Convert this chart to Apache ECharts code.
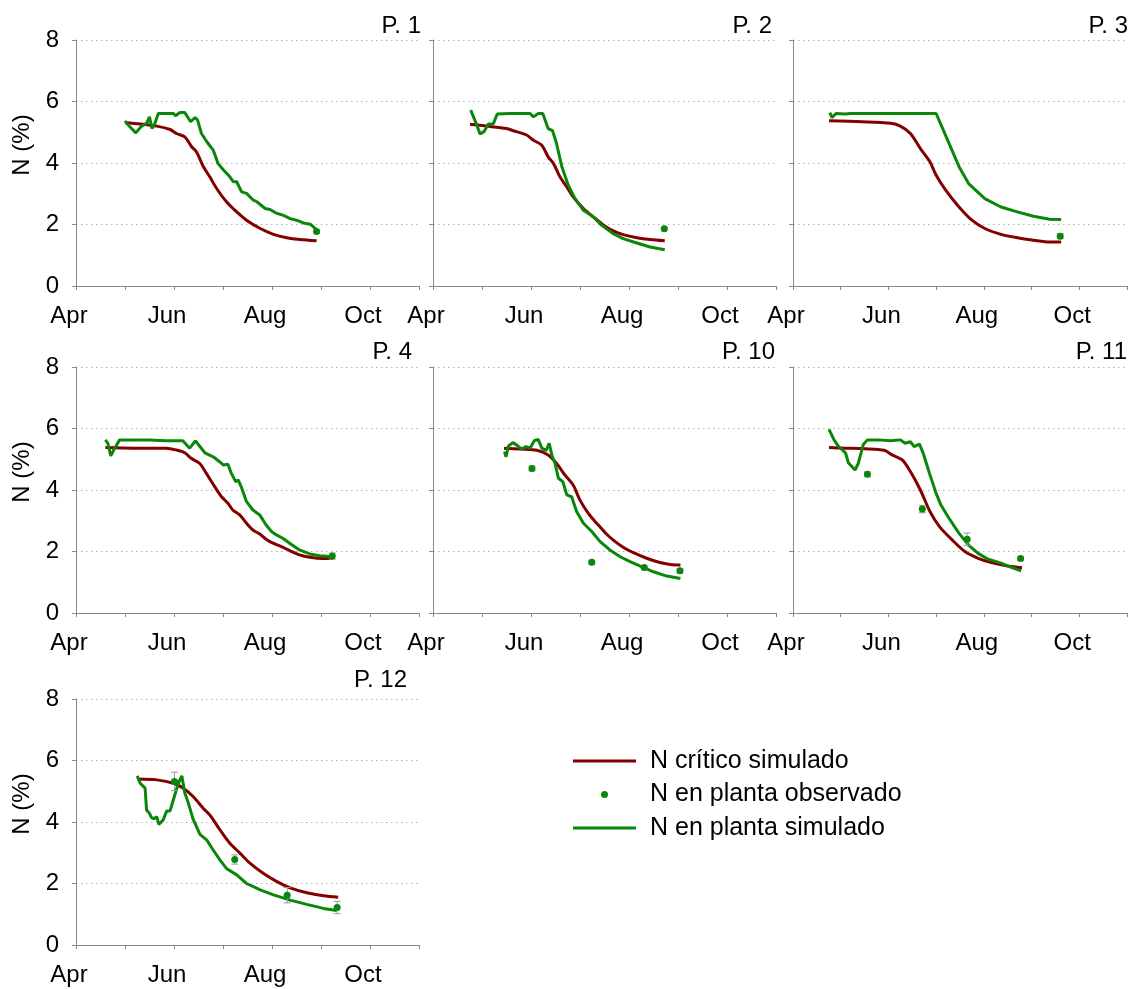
<!DOCTYPE html>
<html>
<head>
<meta charset="utf-8">
<title>N crítico vs N en planta</title>
<script src="https://cdn.jsdelivr.net/npm/echarts@6.0.0/dist/echarts.min.js"></script>
<style>
  html, body { margin: 0; padding: 0; background: #fff; }
  #main { width: 1130px; height: 989px; }
</style>
</head>
<body>
<div id="main"></div>
<script>
// x: meses desde el 1 de abril (0 = Apr, 2 = Jun, 4 = Aug, 6 = Oct)
var monthLabels = ['Apr', '', 'Jun', '', 'Aug', '', 'Oct', ''];
var panelNames = ['P. 1', 'P. 2', 'P. 3', 'P. 4', 'P. 10', 'P. 11', 'P. 12'];

// P. 1
var critP1 = [[1.0,5.31],[1.31,5.27],[1.65,5.2],[1.92,5.09],[2.05,4.96],[2.22,4.85],[2.36,4.53],[2.46,4.36],[2.6,3.88],[2.73,3.55],[2.87,3.17],[3.07,2.74],[3.28,2.41],[3.48,2.14],[3.76,1.87],[4.03,1.68],[4.3,1.57],[4.57,1.51],[4.91,1.47]];
var simP1 = [[1.0,5.37],[1.07,5.23],[1.22,4.98],[1.34,5.2],[1.44,5.29],[1.5,5.5],[1.55,5.12],[1.61,5.29],[1.68,5.61],[1.99,5.61],[2.03,5.54],[2.12,5.64],[2.22,5.64],[2.34,5.34],[2.43,5.48],[2.48,5.4],[2.56,4.96],[2.67,4.69],[2.8,4.42],[2.9,3.98],[3.01,3.77],[3.14,3.55],[3.21,3.39],[3.28,3.39],[3.38,3.06],[3.48,3.01],[3.62,2.79],[3.69,2.74],[3.86,2.52],[3.96,2.49],[4.1,2.36],[4.23,2.3],[4.37,2.19],[4.5,2.14],[4.64,2.05],[4.78,2.01],[4.91,1.83]];
var obsP1 = [[4.91,1.77,0.05]];

// P. 2
var critP2 = [[0.755,5.26],[1.1,5.2],[1.5,5.12],[1.64,5.05],[1.91,4.91],[2.05,4.74],[2.22,4.58],[2.35,4.2],[2.46,3.98],[2.59,3.55],[2.73,3.22],[2.86,2.9],[3.07,2.52],[3.27,2.25],[3.48,1.98],[3.68,1.79],[3.88,1.67],[4.16,1.57],[4.43,1.51],[4.73,1.47]];
var simP2 = [[0.77,5.72],[0.88,5.29],[0.96,4.94],[1.04,5.02],[1.13,5.27],[1.23,5.27],[1.31,5.59],[1.57,5.61],[1.98,5.61],[2.05,5.5],[2.15,5.61],[2.24,5.61],[2.35,5.12],[2.44,5.05],[2.52,4.64],[2.63,3.88],[2.76,3.28],[2.9,2.84],[3.07,2.46],[3.27,2.25],[3.44,1.98],[3.68,1.7],[3.88,1.54],[4.16,1.4],[4.43,1.27],[4.73,1.18]];
var obsP2 = [[4.72,1.86,0.04]];

// P. 3
var critP3 = [[0.755,5.37],[1.44,5.34],[2.05,5.29],[2.25,5.2],[2.46,4.96],[2.67,4.47],[2.87,4.04],[3.0,3.6],[3.2,3.12],[3.48,2.57],[3.75,2.14],[4.02,1.87],[4.36,1.68],[4.7,1.57],[5.04,1.49],[5.38,1.43],[5.62,1.43]];
var simP3 = [[0.77,5.64],[0.82,5.48],[0.9,5.61],[1.1,5.59],[1.2,5.61],[3.0,5.61],[3.27,4.64],[3.48,3.88],[3.68,3.33],[4.02,2.84],[4.36,2.57],[4.7,2.41],[5.04,2.27],[5.38,2.17],[5.62,2.16]];
var obsP3 = [[5.6,1.62,0.08]];

// P. 4
var critP4 = [[0.6,5.38],[1.16,5.36],[1.84,5.36],[2.05,5.3],[2.22,5.21],[2.35,5.03],[2.52,4.87],[2.66,4.54],[2.83,4.11],[2.97,3.78],[3.1,3.57],[3.2,3.35],[3.34,3.19],[3.48,2.92],[3.61,2.7],[3.75,2.57],[3.88,2.4],[4.02,2.27],[4.19,2.16],[4.36,2.03],[4.56,1.89],[4.77,1.81],[5.04,1.77],[5.24,1.77]];
var simP4 = [[0.6,5.63],[0.65,5.52],[0.71,5.11],[0.79,5.36],[0.89,5.63],[1.16,5.63],[1.5,5.63],[1.84,5.6],[2.18,5.6],[2.32,5.36],[2.44,5.6],[2.52,5.43],[2.63,5.21],[2.8,5.08],[2.93,4.92],[3.01,4.81],[3.1,4.84],[3.17,4.54],[3.26,4.27],[3.31,4.33],[3.37,4.11],[3.48,3.62],[3.61,3.35],[3.75,3.19],[3.88,2.86],[3.99,2.65],[4.09,2.54],[4.22,2.43],[4.36,2.27],[4.56,2.05],[4.77,1.92],[4.97,1.86],[5.24,1.83]];
var obsP4 = [[5.23,1.85,0.1]];

// P. 10
var critP10 = [[1.45,5.36],[1.78,5.33],[2.12,5.29],[2.35,5.14],[2.52,4.87],[2.69,4.49],[2.86,4.16],[3.0,3.67],[3.17,3.24],[3.34,2.92],[3.51,2.62],[3.68,2.37],[3.88,2.14],[4.09,1.96],[4.36,1.78],[4.63,1.64],[4.84,1.58],[5.05,1.56]];
var simP10 = [[1.46,5.25],[1.49,5.08],[1.54,5.43],[1.63,5.54],[1.71,5.46],[1.81,5.33],[1.9,5.41],[1.98,5.36],[2.07,5.61],[2.15,5.64],[2.22,5.36],[2.31,5.29],[2.37,5.52],[2.43,5.11],[2.49,4.87],[2.56,4.38],[2.65,4.27],[2.73,3.84],[2.83,3.78],[2.93,3.3],[3.07,2.92],[3.24,2.65],[3.41,2.32],[3.61,2.05],[3.82,1.83],[4.02,1.67],[4.22,1.53],[4.5,1.34],[4.77,1.2],[5.05,1.12]];
var obsP10 = [[2.02,4.7,0.08],[3.24,1.65,0.06],[4.31,1.48,0.05],[5.04,1.37,0.07]];

// P. 11
var critP11 = [[0.755,5.38],[1.1,5.36],[1.5,5.34],[1.91,5.29],[2.08,5.14],[2.29,4.98],[2.46,4.6],[2.67,4.0],[2.87,3.3],[3.07,2.81],[3.34,2.37],[3.61,1.99],[3.88,1.78],[4.16,1.64],[4.5,1.53],[4.8,1.47]];
var simP11 = [[0.755,5.97],[0.86,5.63],[0.95,5.43],[1.1,5.21],[1.16,4.89],[1.3,4.65],[1.37,4.87],[1.47,5.47],[1.56,5.63],[1.78,5.63],[2.05,5.6],[2.25,5.63],[2.35,5.52],[2.46,5.57],[2.54,5.41],[2.65,5.49],[2.73,5.19],[2.86,4.54],[3.0,3.89],[3.1,3.51],[3.27,3.08],[3.48,2.59],[3.68,2.21],[3.88,1.94],[4.09,1.75],[4.36,1.62],[4.56,1.49],[4.78,1.37]];
var obsP11 = [[1.56,4.51,0.08],[2.71,3.38,0.12],[3.65,2.4,0.2],[4.77,1.77,0.06]];

// P. 12
var critP12 = [[1.25,5.4],[1.65,5.37],[1.99,5.26],[2.19,5.1],[2.39,4.83],[2.6,4.44],[2.73,4.23],[2.94,3.74],[3.14,3.31],[3.35,2.98],[3.55,2.66],[3.82,2.33],[4.1,2.06],[4.37,1.86],[4.71,1.7],[5.05,1.6],[5.35,1.55]];
var simP12 = [[1.25,5.5],[1.31,5.26],[1.41,5.1],[1.44,4.39],[1.5,4.28],[1.54,4.14],[1.59,4.11],[1.65,4.17],[1.69,3.92],[1.78,4.07],[1.85,4.36],[1.92,4.36],[1.99,4.74],[2.09,5.26],[2.16,5.5],[2.22,4.95],[2.29,4.63],[2.39,4.09],[2.53,3.6],[2.67,3.41],[2.8,3.09],[2.94,2.76],[3.07,2.49],[3.28,2.28],[3.48,2.0],[3.76,1.79],[4.03,1.63],[4.37,1.46],[4.71,1.32],[5.05,1.19],[5.32,1.12]];
var obsP12 = [[2.01,5.32,0.3],[3.24,2.78,0.15],[4.31,1.62,0.25],[5.33,1.22,0.2]];

var panels = [
    { crit: critP1, sim: simP1, obs: obsP1 },
    { crit: critP2, sim: simP2, obs: obsP2 },
    { crit: critP3, sim: simP3, obs: obsP3 },
    { crit: critP4, sim: simP4, obs: obsP4 },
    { crit: critP10, sim: simP10, obs: obsP10 },
    { crit: critP11, sim: simP11, obs: obsP11 },
    { crit: critP12, sim: simP12, obs: obsP12 }
];

var FONT = "'Liberation Sans', Arial, Helvetica, sans-serif";
var RED = '#820000';
var GREEN = '#0a870a';
var colLeft = [76, 433, 793];
var rowTop = [40, 367, 699];
var titleRight = [709, 358, 2, 718, 355, 3, 723];
var titleTop = [14, 340, 668];
// icono de leyenda: banda horizontal fina (los subtrazados vacíos fijan la caja 63x7)
var LINE_ICON = 'path://M0,0L63,0L63,0.01Z M0,2L63,2L63,5L0,5Z M0,7L63,7L63,6.99Z';

var myChart = echarts.init(document.getElementById('main'));

var grids = [], xAxes = [], yAxes = [], series = [], titles = [];

panels.forEach(function (p, i) {
    var col = i % 3, row = Math.floor(i / 3);
    var first = col === 0;
    grids.push({ left: colLeft[col], top: rowTop[row], width: 343, height: 246 });

    xAxes.push({
        gridIndex: i,
        type: 'value',
        min: 0,
        max: 7,
        interval: 1,
        axisLine: { lineStyle: { color: '#888', width: 1 } },
        axisTick: { show: true, length: 4, lineStyle: { color: '#888' } },
        axisLabel: {
            color: '#000',
            fontFamily: FONT,
            fontSize: 24,
            margin: 18,
            padding: [0, 14, 0, 0],
            showMinLabel: true,
            showMaxLabel: true,
            formatter: function (v) { return monthLabels[v] || ''; }
        },
        splitLine: { show: false }
    });

    yAxes.push({
        gridIndex: i,
        type: 'value',
        min: 0,
        max: 8,
        interval: 2,
        name: first ? 'N (%)' : '',
        nameLocation: 'middle',
        nameGap: 42,
        nameTextStyle: { color: '#000', fontFamily: FONT, fontSize: 24, padding: [0, 0, 0, 36] },
        axisLine: { show: true, lineStyle: { color: '#888', width: 1 } },
        axisTick: { show: true, length: 4, lineStyle: { color: '#888' } },
        axisLabel: {
            show: first,
            color: '#000',
            fontFamily: FONT,
            fontSize: 24,
            margin: 17
        },
        splitLine: {
            show: true,
            lineStyle: { color: '#b0b0b0', type: [1.5, 3.5], width: 1 }
        }
    });

    titles.push({
        text: panelNames[i],
        right: titleRight[i],
        top: titleTop[row],
        padding: 0,
        textStyle: { color: '#000', fontFamily: FONT, fontSize: 24, fontWeight: 'normal' }
    });

    series.push({
        name: 'N crítico simulado',
        type: 'line',
        xAxisIndex: i,
        yAxisIndex: i,
        data: p.crit,
        symbol: 'none',
        smooth: 0.3,
        lineStyle: { color: RED, width: 3 },
        itemStyle: { color: RED },
        z: 3
    });
    series.push({
        name: 'N en planta simulado',
        type: 'line',
        xAxisIndex: i,
        yAxisIndex: i,
        data: p.sim,
        symbol: 'none',
        lineStyle: { color: GREEN, width: 3 },
        itemStyle: { color: GREEN },
        z: 4
    });
    series.push({
        name: 'err',
        type: 'custom',
        xAxisIndex: i,
        yAxisIndex: i,
        data: p.obs,
        encode: { x: 0, y: 1 },
        renderItem: function (params, api) {
            var x = api.value(0), y = api.value(1), e = api.value(2);
            var hi = api.coord([x, y + e]);
            var lo = api.coord([x, y - e]);
            var st = { stroke: '#9a9a9a', lineWidth: 1 };
            return {
                type: 'group',
                children: [
                    { type: 'line', shape: { x1: hi[0], y1: hi[1], x2: lo[0], y2: lo[1] }, style: st },
                    { type: 'line', shape: { x1: hi[0] - 3.5, y1: hi[1], x2: hi[0] + 3.5, y2: hi[1] }, style: st },
                    { type: 'line', shape: { x1: lo[0] - 3.5, y1: lo[1], x2: lo[0] + 3.5, y2: lo[1] }, style: st }
                ]
            };
        },
        z: 5
    });
    series.push({
        name: 'N en planta observado',
        type: 'scatter',
        xAxisIndex: i,
        yAxisIndex: i,
        data: p.obs,
        encode: { x: 0, y: 1 },
        symbol: 'circle',
        symbolSize: 7,
        itemStyle: { color: GREEN, opacity: 1 },
        z: 6
    });
});

var option = {
    animation: false,
    backgroundColor: '#fff',
    title: titles,
    legend: {
        orient: 'vertical',
        left: 573,
        top: 748,
        padding: 0,
        itemWidth: 63,
        itemHeight: 7,
        itemGap: 7.5,
        selectedMode: false,
        textStyle: { color: '#000', fontFamily: FONT, fontSize: 25, lineHeight: 26, padding: [0, 0, 0, 9] },
        data: [
            { name: 'N crítico simulado', icon: LINE_ICON, itemStyle: { color: RED } },
            { name: 'N en planta observado' },
            { name: 'N en planta simulado', icon: LINE_ICON, itemStyle: { color: GREEN } }
        ]
    },
    grid: grids,
    xAxis: xAxes,
    yAxis: yAxes,
    series: series
};

myChart.setOption(option);
</script>
</body>
</html>
